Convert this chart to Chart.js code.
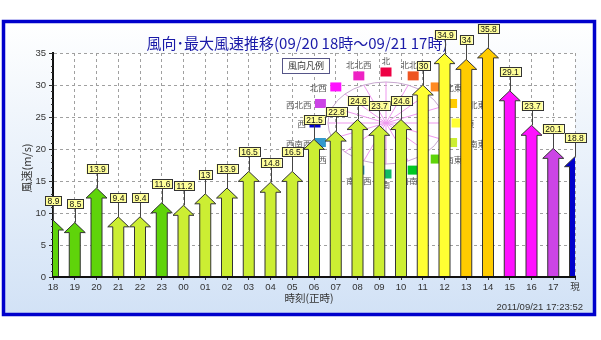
<!DOCTYPE html>
<html>
<head>
<meta charset="utf-8">
<script src="https://cdn.jsdelivr.net/npm/chart.js@4/dist/chart.umd.min.js"></script>
<style>
html, body { margin: 0; padding: 0; background: #fff; }
canvas { display: block; }
</style>
</head>
<body>
<canvas id="canvasVent" width="601" height="340"></canvas>
<script>
// heures (abscisse)
const heures = ['18', '19', '20', '21', '22', '23', '00', '01', '02', '03', '04', '05', '06', '07', '08', '09', '10', '11', '12', '13', '14', '15', '16', '17', '現']
// vitesse max du vent (m/s)
const vitesses = [8.9, 8.5, 13.9, 9.4, 9.4, 11.6, 11.2, 13, 13.9, 16.5, 14.8, 16.5, 21.5, 22.8, 24.6, 23.7, 24.6, 30, 34.9, 34, 35.8, 29.1, 23.7, 20.1, 18.8]
// direction du vent pour chaque heure
const directions = ['南東', '南東', '南東', '東南東', '東南東', '南東', '東南東', '東南東', '東南東', '東南東', '東南東', '東南東', '東南東', '東南東', '東南東', '東南東', '東南東', '東', '東', '東北東', '東北東', '北西', '北西', '西北西', '西']
// les 16 directions du legende, dans le sens horaire depuis le nord
const nomsDirections = ['北', '北北東', '北東', '東北東', '東', '東南東', '南東', '南南東', '南', '南南西', '南西', '西南西', '西', '西北西', '北西', '北北西']
const couleursDirections = ['#ee0044', '#ee5522', '#ff8a22', '#ffcc00', '#ffff33', '#ccee33', '#5fd40a', '#00c822', '#11bb66', '#2299bb', '#22bbcc', '#3399cc', '#0000cc', '#cc44e6', '#ff11ff', '#ee22c4']

const titre = '風向･最大風速推移(09/20 18時～09/21 17時)'
const titreY = '風速(m/s)'
const titreX = '時刻(正時)'
const horodatage = '2011/09/21 17:23:52'

const policeLatine = '"Liberation Sans", "Noto Sans CJK JP", sans-serif'
const policeJap = '"Noto Sans CJK JP", sans-serif'

function couleurDe(direction) {
    return couleursDirections[nomsDirections.indexOf(direction)]
}

// fond, cadre bleu et textes
const fondCadre = {
    id: 'fondCadre',
    beforeDraw(chart) {
        const ctx = chart.ctx
        const zone = chart.chartArea
        ctx.save()
        ctx.fillStyle = '#ffffff'
        ctx.fillRect(0, 0, chart.width, chart.height)

        let degrade = ctx.createLinearGradient(0, 22, 0, 314)
        degrade.addColorStop(0, '#ffffff')
        degrade.addColorStop(0.3, '#f1f6fc')
        degrade.addColorStop(1, '#d2e2f6')
        ctx.fillStyle = degrade
        ctx.fillRect(4, 22, 590, 292)

        ctx.strokeStyle = '#0000cc'
        ctx.lineWidth = 3.5
        ctx.strokeRect(3.5, 21.5, 591, 293)

        ctx.fillStyle = '#ffffff'
        ctx.fillRect(zone.left, zone.top, zone.right - zone.left, zone.bottom - zone.top)

        // titre
        ctx.fillStyle = '#1a1aa8'
        ctx.font = '15px ' + policeJap
        ctx.textAlign = 'center'
        ctx.textBaseline = 'middle'
        ctx.fillText(titre, 297, 43)

        // titres des axes
        ctx.fillStyle = '#333'
        ctx.font = '10.5px ' + policeJap
        ctx.fillText(titreX, 309, 298)
        ctx.save()
        ctx.translate(27, 168)
        ctx.rotate(-Math.PI / 2)
        ctx.font = '11px ' + policeJap
        ctx.fillText(titreY, 0, 0)
        ctx.restore()

        ctx.textAlign = 'right'
        ctx.font = '9.5px ' + policeLatine
        ctx.fillText(horodatage, 583, 307)
        ctx.restore()
    }
}

// legende des directions (rose des vents) + petites graduations
const roseVents = {
    id: 'roseVents',
    beforeDatasetsDraw(chart) {
        const ctx = chart.ctx
        const echelleY = chart.scales.y
        const zone = chart.chartArea
        ctx.save()

        // graduations secondaires
        ctx.strokeStyle = '#333'
        ctx.lineWidth = 1
        for (let v = 0; v <= 35; v++) {
            let y = Math.round(echelleY.getPixelForValue(v)) + 0.5
            ctx.beginPath()
            ctx.moveTo(zone.left - 2, y)
            ctx.lineTo(zone.left, y)
            ctx.stroke()
        }

        // cadre "風向凡例"
        ctx.fillStyle = '#ffffff'
        ctx.fillRect(282, 58, 47, 15)
        ctx.strokeStyle = '#555588'
        ctx.strokeRect(282.5, 58.5, 47, 15)
        ctx.fillStyle = '#333'
        ctx.font = '9px ' + policeJap
        ctx.textAlign = 'center'
        ctx.textBaseline = 'middle'
        ctx.fillText('風向凡例', 306, 66)

        const cx = 386, cy = 123
        // ellipse et rayons
        ctx.strokeStyle = '#c8a8d0'
        ctx.beginPath()
        ctx.ellipse(cx, cy, 58, 41, 0, 0, Math.PI * 2)
        ctx.stroke()
        ctx.strokeStyle = '#ee99ee'
        for (let i = 0; i < 16; i++) {
            let a = i * Math.PI / 8
            ctx.beginPath()
            ctx.moveTo(cx, cy)
            ctx.lineTo(cx + 58 * Math.sin(a), cy - 41 * Math.cos(a))
            ctx.stroke()
        }

        // carres + noms
        ctx.font = '8.5px ' + policeJap
        for (let i = 0; i < 16; i++) {
            let a = i * Math.PI / 8
            let sx = cx + 71 * Math.sin(a)
            let sy = cy - 51 * Math.cos(a)
            ctx.fillStyle = couleursDirections[i]
            ctx.fillRect(sx - 5.5, sy - 4.5, 11, 9)
            ctx.fillStyle = '#555'
            let dx = Math.sin(a)
            if (Math.abs(dx) < 0.5) {
                ctx.textAlign = 'center'
                ctx.fillText(nomsDirections[i], sx, Math.cos(a) > 0 ? sy - 11 : sy + 11)
            } else if (dx > 0) {
                ctx.textAlign = 'left'
                ctx.fillText(nomsDirections[i], sx + 9, sy + 1)
            } else {
                ctx.textAlign = 'right'
                ctx.fillText(nomsDirections[i], sx - 9, sy + 1)
            }
        }
        ctx.restore()
    }
}

// les fleches et les etiquettes jaunes
const fleches = {
    id: 'fleches',
    afterDatasetsDraw(chart) {
        const ctx = chart.ctx
        const zone = chart.chartArea
        const meta = chart.getDatasetMeta(0)
        const demiTige = 5.5, demiTete = 10.5, hTete = 10

        ctx.save()
        ctx.beginPath()
        ctx.rect(zone.left, 0, zone.right - zone.left, zone.bottom)
        ctx.clip()
        meta.data.forEach((barre, i) => {
            let x = barre.x, haut = barre.y, bas = barre.base
            ctx.beginPath()
            ctx.moveTo(x - demiTige, bas)
            ctx.lineTo(x - demiTige, haut + hTete)
            ctx.lineTo(x - demiTete, haut + hTete)
            ctx.lineTo(x, haut)
            ctx.lineTo(x + demiTete, haut + hTete)
            ctx.lineTo(x + demiTige, haut + hTete)
            ctx.lineTo(x + demiTige, bas)
            ctx.closePath()
            ctx.fillStyle = couleurDe(directions[i])
            ctx.fill()
            ctx.strokeStyle = '#333'
            ctx.lineWidth = 1
            ctx.stroke()
        })
        ctx.restore()

        ctx.save()
        ctx.font = '8.5px ' + policeLatine
        ctx.textAlign = 'center'
        ctx.textBaseline = 'middle'
        meta.data.forEach((barre, i) => {
            let x = Math.round(barre.x)
            let pointe = barre.y
            let texte = String(vitesses[i])
            let w = Math.round(ctx.measureText(texte).width + 4)
            let basBoite = Math.round(pointe - 14)
            ctx.strokeStyle = '#444'
            ctx.lineWidth = 1
            ctx.beginPath()
            ctx.moveTo(x + 0.5, basBoite)
            ctx.lineTo(x + 0.5, pointe)
            ctx.stroke()
            ctx.fillStyle = '#ffff99'
            ctx.fillRect(x - w / 2, basBoite - 10, w, 10)
            ctx.strokeStyle = '#333'
            ctx.strokeRect(Math.round(x - w / 2) + 0.5, basBoite - 9.5, w, 9)
            ctx.fillStyle = '#111'
            ctx.fillText(texte, x + 0.5, basBoite - 4.5)
        })
        ctx.restore()
    }
}

new Chart(document.getElementById('canvasVent'), {
    type: 'bar',
    data: {
        labels: heures,
        datasets: [{
            label: '最大風速',
            data: vitesses,
            backgroundColor: 'rgba(0,0,0,0)',
            borderWidth: 0
        }]
    },
    options: {
        responsive: false,
        devicePixelRatio: 1,
        animation: false,
        events: [],
        layout: {
            autoPadding: false,
            padding: { top: 53, right: 26, bottom: 43, left: 0 }
        },
        plugins: {
            legend: { display: false },
            tooltip: { enabled: false },
            title: { display: false }
        },
        scales: {
            x: {
                offset: false,
                afterFit: (s) => { s.height = 20 },
                grid: { offset: false, color: '#a0a0a0', tickLength: 3, tickColor: '#333' },
                border: { display: true, color: '#111', width: 2, dash: [3, 3], z: 1 },
                ticks: {
                    autoSkip: false, maxRotation: 0, padding: 2,
                    color: '#333', font: { size: 9.5, family: policeLatine }
                }
            },
            y: {
                min: 0,
                max: 35,
                afterFit: (s) => { s.width = 53 },
                grid: { color: '#a0a0a0', tickLength: 4, tickColor: '#333' },
                border: { display: true, color: '#111', width: 2, dash: [3, 3] },
                ticks: {
                    stepSize: 5, padding: 3,
                    color: '#333', font: { size: 9.5, family: policeLatine }
                }
            }
        }
    },
    plugins: [fondCadre, roseVents, fleches]
})
</script>
</body>
</html>
